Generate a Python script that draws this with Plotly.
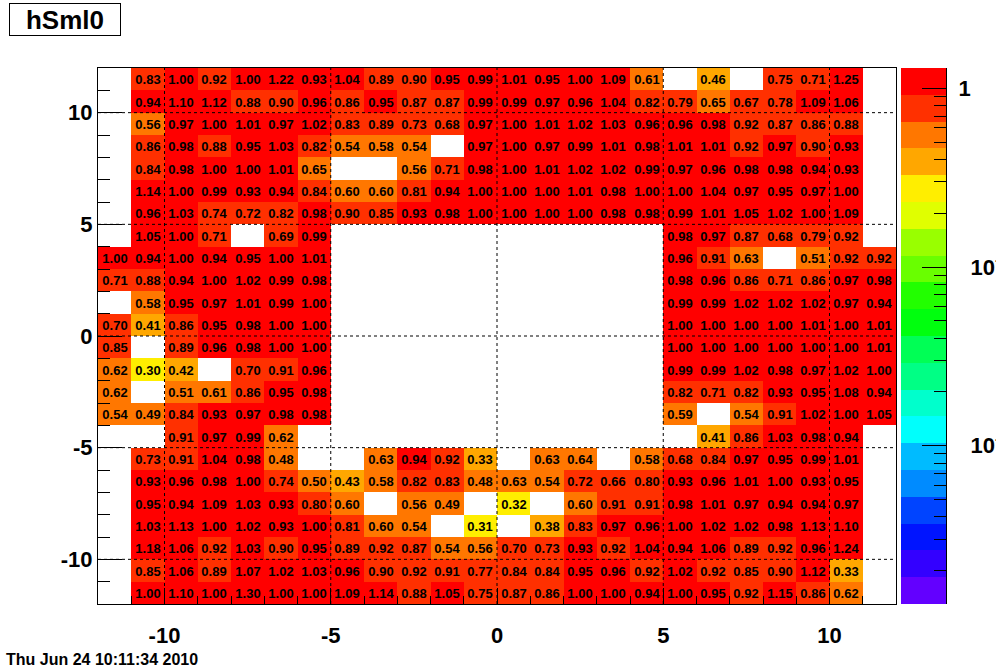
import math
import colorsys
import plotly.graph_objects as go

N = None
# bin centres (24 x 24 bins from -12 to 12)
x_centers = [-11.5 + i for i in range(24)]
y_centers = [11.5 - i for i in range(24)]  # top to bottom

# rows of cell values, from the top row (y in [11,12]) to the bottom row (y in [-12,-11])
row_11 = [N, 0.83, 1.00, 0.92, 1.00, 1.22, 0.93, 1.04, 0.89, 0.90, 0.95, 0.99, 1.01, 0.95, 1.00, 1.09, 0.61, N, 0.46, N, 0.75, 0.71, 1.25, N]
row_10 = [N, 0.94, 1.10, 1.12, 0.88, 0.90, 0.96, 0.86, 0.95, 0.87, 0.87, 0.99, 0.99, 0.97, 0.96, 1.04, 0.82, 0.79, 0.65, 0.67, 0.78, 1.09, 1.06, N]
row_9 = [N, 0.56, 0.97, 1.00, 1.01, 0.97, 1.02, 0.83, 0.89, 0.73, 0.68, 0.97, 1.00, 1.01, 1.02, 1.03, 0.96, 0.96, 0.98, 0.92, 0.87, 0.86, 0.88, N]
row_8 = [N, 0.86, 0.98, 0.88, 0.95, 1.03, 0.82, 0.54, 0.58, 0.54, N, 0.97, 1.00, 0.97, 0.99, 1.01, 0.98, 1.01, 1.01, 0.92, 0.97, 0.90, 0.93, N]
row_7 = [N, 0.84, 0.98, 1.00, 1.00, 1.01, 0.65, N, N, 0.56, 0.71, 0.98, 1.00, 1.01, 1.02, 1.02, 0.99, 0.97, 0.96, 0.98, 0.98, 0.94, 0.93, N]
row_6 = [N, 1.14, 1.00, 0.99, 0.93, 0.94, 0.84, 0.60, 0.60, 0.81, 0.94, 1.00, 1.00, 1.00, 1.01, 0.98, 1.00, 1.00, 1.04, 0.97, 0.95, 0.97, 1.00, N]
row_5 = [N, 0.96, 1.03, 0.74, 0.72, 0.82, 0.98, 0.90, 0.85, 0.93, 0.98, 1.00, 1.00, 1.00, 1.00, 0.98, 0.98, 0.99, 1.01, 1.05, 1.02, 1.00, 1.09, N]
row_4 = [N, 1.05, 1.00, 0.71, N, 0.69, 0.99, N, N, N, N, N, N, N, N, N, N, 0.98, 0.97, 0.87, 0.68, 0.79, 0.92, N]
row_3 = [1.00, 0.94, 1.00, 0.94, 0.95, 1.00, 1.01, N, N, N, N, N, N, N, N, N, N, 0.96, 0.91, 0.63, N, 0.51, 0.92, 0.92]
row_2 = [0.71, 0.88, 0.94, 1.00, 1.02, 0.99, 0.98, N, N, N, N, N, N, N, N, N, N, 0.98, 0.96, 0.86, 0.71, 0.86, 0.97, 0.98]
row_1 = [N, 0.58, 0.95, 0.97, 1.01, 0.99, 1.00, N, N, N, N, N, N, N, N, N, N, 0.99, 0.99, 1.02, 1.02, 1.02, 0.97, 0.94]
row_0 = [0.70, 0.41, 0.86, 0.95, 0.98, 1.00, 1.00, N, N, N, N, N, N, N, N, N, N, 1.00, 1.00, 1.00, 1.00, 1.01, 1.00, 1.01]
row_m1 = [0.85, N, 0.89, 0.96, 0.98, 1.00, 1.00, N, N, N, N, N, N, N, N, N, N, 1.00, 1.00, 1.00, 1.00, 1.00, 1.00, 1.01]
row_m2 = [0.62, 0.30, 0.42, N, 0.70, 0.91, 0.96, N, N, N, N, N, N, N, N, N, N, 0.99, 0.99, 1.02, 0.98, 0.97, 1.02, 1.00]
row_m3 = [0.62, N, 0.51, 0.61, 0.86, 0.95, 0.98, N, N, N, N, N, N, N, N, N, N, 0.82, 0.71, 0.82, 0.93, 0.95, 1.08, 0.94]
row_m4 = [0.54, 0.49, 0.84, 0.93, 0.97, 0.98, 0.98, N, N, N, N, N, N, N, N, N, N, 0.59, N, 0.54, 0.91, 1.02, 1.00, 1.05]
row_m5 = [N, N, 0.91, 0.97, 0.99, 0.62, N, N, N, N, N, N, N, N, N, N, N, N, 0.41, 0.86, 1.03, 0.98, 0.94, N]
row_m6 = [N, 0.73, 0.91, 1.04, 0.98, 0.48, N, N, 0.63, 0.94, 0.92, 0.33, N, 0.63, 0.64, N, 0.58, 0.68, 0.84, 0.97, 0.95, 0.99, 1.01, N]
row_m7 = [N, 0.93, 0.96, 0.98, 1.00, 0.74, 0.50, 0.43, 0.58, 0.82, 0.83, 0.48, 0.63, 0.54, 0.72, 0.66, 0.80, 0.93, 0.96, 1.01, 1.00, 0.93, 0.95, N]
row_m8 = [N, 0.95, 0.94, 1.09, 1.03, 0.93, 0.80, 0.60, N, 0.56, 0.49, N, 0.32, N, 0.60, 0.91, 0.91, 0.98, 1.01, 0.97, 0.94, 0.94, 0.97, N]
row_m9 = [N, 1.03, 1.13, 1.00, 1.02, 0.93, 1.00, 0.81, 0.60, 0.54, N, 0.31, N, 0.38, 0.83, 0.97, 0.96, 1.00, 1.02, 1.02, 0.98, 1.13, 1.10, N]
row_m10 = [N, 1.18, 1.06, 0.92, 1.03, 0.90, 0.95, 0.89, 0.92, 0.87, 0.54, 0.56, 0.70, 0.73, 0.93, 0.92, 1.04, 0.94, 1.06, 0.89, 0.92, 0.96, 1.24, N]
row_m11 = [N, 0.85, 1.06, 0.89, 1.07, 1.02, 1.03, 0.96, 0.90, 0.92, 0.91, 0.77, 0.84, 0.84, 0.95, 0.96, 0.92, 1.02, 0.92, 0.85, 0.90, 1.12, 0.33, N]
row_m12 = [N, 1.00, 1.10, 1.00, 1.30, 1.00, 1.00, 1.09, 1.14, 0.88, 1.05, 0.75, 0.87, 0.86, 1.00, 1.00, 0.94, 1.00, 0.95, 0.92, 1.15, 0.86, 0.62, N]

axis_ticks = [-10, -5, 0, 5, 10]
axis_tick_text = ["-10", "-5", "0", "5", "10"]
cbar_major = [0.01, 0.1, 1]
cbar_major_text = ["\u00a0\u00a010<sup>-2</sup>", "\u00a0\u00a010<sup>-1</sup>", "1"]
title_text = "hSml0"
date_text = "Thu Jun 24 10:11:34 2010"

rows = [row_11, row_10, row_9, row_8, row_7, row_6, row_5, row_4, row_3, row_2, row_1, row_0,
        row_m1, row_m2, row_m3, row_m4, row_m5, row_m6, row_m7, row_m8, row_m9, row_m10, row_m11, row_m12]

z = [[math.log10(v) if v else None for v in r] for r in rows]
txt = [[f"{v:.2f}" if v else " " for v in r] for r in rows]

zmax_val = max(v for r in rows for v in r if v)
zmin_val = 0.001 * zmax_val
lo, hi = math.log10(zmin_val), math.log10(zmax_val)

# ROOT "pretty" palette (50 colours, HLS hue scan) mapped to 20 contour levels
npal, ndiv = 50, 20
palette = []
for i in range(npal):
    hue = 280 - (i + 1) * (280 / npal)
    r, g, b = colorsys.hls_to_rgb(hue / 360, 0.5, 1)
    palette.append(f"rgb({round(r*255)},{round(g*255)},{round(b*255)})")
bands = [palette[int((j + 0.99) * npal / ndiv)] for j in range(ndiv)]
colorscale = []
for j, c in enumerate(bands):
    colorscale.append([j / ndiv, c])
    colorscale.append([(j + 1) / ndiv, c])

# colour-scale strip: one cell per contour level (log10 units)
step = (hi - lo) / ndiv
band_centres = [lo + (k + 0.5) * step for k in range(ndiv)]

W, H = 996, 672
L, R, T, B = 98, 896, 68, 604
CB_L, CB_R = 901, 946
FONT = "Liberation Sans, Arial, sans-serif"

fig = go.Figure()
fig.add_trace(go.Heatmap(
    x=x_centers, y=y_centers, z=z, zmin=lo, zmax=hi,
    colorscale=colorscale, text=txt, texttemplate="%{text}",
    textfont=dict(family=FONT, size=13, color="black", weight="bold"),
    hoverinfo="skip", xgap=0, ygap=0, showscale=False,
))
fig.add_trace(go.Heatmap(
    x=[0.5], y=band_centres, z=[[v] for v in band_centres], zmin=lo, zmax=hi,
    colorscale=colorscale, showscale=False, hoverinfo="skip",
    xaxis="x2", yaxis="y2",
))

for v in axis_ticks:
    fig.add_vline(x=v, line=dict(color="black", width=1, dash="dot"), layer="above")
    fig.add_hline(y=v, line=dict(color="black", width=1, dash="dot"), layer="above")

minor_vals = [math.log10(m * 10 ** e) for e in (-3, -2, -1) for m in range(2, 10)
              if zmin_val <= m * 10 ** e <= zmax_val]

fig.update_layout(
    width=W, height=H, autosize=False,
    margin=dict(l=0, r=0, t=0, b=0, pad=0),
    paper_bgcolor="white", plot_bgcolor="white",
    showlegend=False,
    font=dict(family=FONT, color="black"),
    xaxis=dict(
        domain=[L / W, R / W], range=[-12, 12], tickvals=axis_ticks, ticktext=axis_tick_text,
        ticks="inside", ticklen=16, tickcolor="black", showgrid=False, zeroline=False,
        showline=True, linecolor="black", linewidth=1, mirror=True, automargin=False,
        tickfont=dict(family=FONT, size=22, weight="bold"), ticklabelstandoff=12,
        minor=dict(ticks="inside", ticklen=8, dtick=1, tickcolor="black", showgrid=False),
        anchor="y", fixedrange=True,
    ),
    yaxis=dict(
        domain=[1 - B / H, 1 - T / H], range=[-12, 12], tickvals=axis_ticks, ticktext=axis_tick_text,
        ticks="inside", ticklen=24, tickcolor="black", showgrid=False, zeroline=False,
        showline=True, linecolor="black", linewidth=1, mirror=True, automargin=False,
        tickfont=dict(family=FONT, size=22, weight="bold"), ticklabelstandoff=0,
        minor=dict(ticks="inside", ticklen=12, dtick=1, tickcolor="black", showgrid=False),
        anchor="x", fixedrange=True,
    ),
    xaxis2=dict(domain=[CB_L / W, CB_R / W], range=[0, 1], visible=False, anchor="y2",
                fixedrange=True, automargin=False),
    yaxis2=dict(
        domain=[1 - B / H, 1 - T / H], range=[lo, hi], anchor="x2", side="right",
        tickmode="array", tickvals=[math.log10(v) for v in cbar_major], ticktext=cbar_major_text,
        ticks="inside", ticklen=24, tickcolor="black", automargin=False, ticklabeloverflow="allow",
        showline=True, linecolor="black", linewidth=1, showgrid=False, zeroline=False,
        tickfont=dict(family=FONT, size=22, weight="bold"), ticklabelstandoff=7,
        minor=dict(ticks="inside", ticklen=12, tickmode="array", tickvals=minor_vals,
                   tickcolor="black", showgrid=False),
        fixedrange=True,
    ),
    annotations=[
        dict(text=title_text, xref="paper", yref="paper", x=9 / W, y=1 - 3 / H,
             xanchor="left", yanchor="top", showarrow=False,
             font=dict(family=FONT, size=26, weight="bold", color="black"),
             bordercolor="black", borderwidth=1, borderpad=0, width=110, height=31, bgcolor="white"),
        dict(text=date_text, xref="paper", yref="paper", x=4 / W, y=1 - 659 / H,
             xanchor="left", yanchor="middle", showarrow=False,
             font=dict(family=FONT, size=16, weight="bold", color="black")),
    ],
)

fig.write_html("out.html", config={"displayModeBar": False, "responsive": False},
               post_script="document.body.style.margin='0';document.body.style.padding='0';"
                           "document.documentElement.style.overflow='hidden';")
